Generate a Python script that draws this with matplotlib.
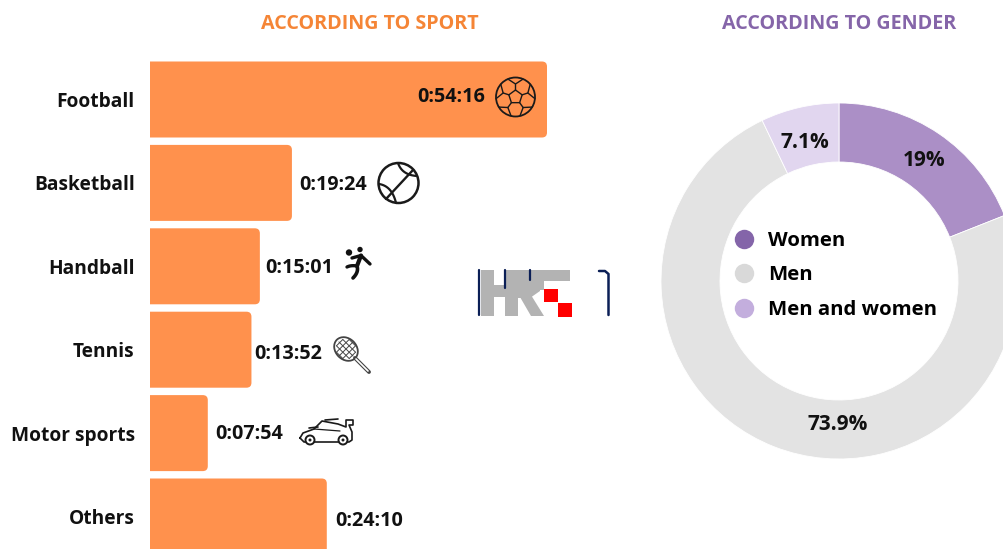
from __future__ import annotations

import matplotlib
matplotlib.use("Agg")
import matplotlib.pyplot as plt
import numpy as np
from matplotlib.lines import Line2D
from matplotlib.patches import Circle, Ellipse, PathPatch, Polygon, Rectangle
from matplotlib.path import Path

W, H = 1004, 549

sports = ["Football", "Basketball", "Handball", "Tennis", "Motor sports", "Others"]
times = ["0:54:16", "0:19:24", "0:15:01", "0:13:52", "0:07:54", "0:24:10"]

genders = ["Women", "Men", "Men and women"]
gender_shares = [19.0, 73.9, 7.1]
gender_labels = ["19%", "73.9%", "7.1%"]

ORANGE = "#FF914D"
WEDGE_COLORS = ["#AB8FC6", "#E3E3E3", "#E1D6EF"]
LEGEND_COLORS = ["#8465A9", "#D9D9D9", "#C3AEDD"]
NAVY = "#0B1F56"

# Noto Sans here is a variable font and renders regular only, Open Sans has a real bold
plt.rcParams["font.family"] = ["Open Sans", "DejaVu Sans"]
plt.rcParams["font.weight"] = "bold"


def to_seconds(label: str) -> int:
    h, m, s = label.split(":")
    return int(h) * 3600 + int(m) * 60 + int(s)


def px_axes(fig, left, top, width, height):
    return fig.add_axes([left / W, 1 - (top + height) / H, width / W, height / H])


def round_right(ax, bar, px_x, px_y, r=5):
    # barh gives square corners, swap for a shape rounded on the right side only
    x0, y0 = bar.get_x(), bar.get_y()
    x1, y1 = x0 + bar.get_width(), y0 + bar.get_height()
    rx, ry = r / px_x, r / px_y
    verts = [(x0, y0), (x1 - rx, y0), (x1, y0), (x1, y0 + ry), (x1, y1 - ry), (x1, y1),
             (x1 - rx, y1), (x0, y1), (x0, y0)]
    codes = [Path.MOVETO, Path.LINETO, Path.CURVE3, Path.CURVE3, Path.LINETO, Path.CURVE3,
             Path.CURVE3, Path.LINETO, Path.CLOSEPOLY]
    ax.add_patch(PathPatch(Path(verts, codes), fc=ORANGE, ec="none"))
    bar.set_visible(False)


fig = plt.figure(figsize=(W / 100, H / 100), dpi=100, facecolor="white")

# bars: axes spans full height, category 0 sits at 99.5px with 83.4px steps
seconds = [to_seconds(t) for t in times]
px_per_sec = 397 / 3256
step = 83.4
ax = px_axes(fig, 150, 0, W - 150, H)
bars = ax.barh(range(len(sports)), seconds, height=76 / step, color=ORANGE)
ax.set_xlim(0, (W - 150) / px_per_sec)
ax.set_ylim((H - 99.5) / step, -99.5 / step)
for b in bars:
    round_right(ax, b, px_per_sec, step)
ax.set_xticks([])
ax.set_yticks(range(len(sports)), sports, fontsize=13.8, fontweight="bold", color="#111111")
ax.tick_params(axis="y", length=0, pad=11)
for s in ax.spines.values():
    s.set_visible(False)
ax.patch.set_alpha(0)

label_shift = [-2, 2, 2, 4, 1, 4.5]
label_gap = [-62, 7, 5, 3, 7, 8]
for i, (sec, t) in enumerate(zip(seconds, times)):
    ax.annotate(t, xy=(sec, i), xytext=(label_gap[i] * 0.72, -label_shift[i] * 0.72),
                textcoords="offset points", ha="right" if i == 0 else "left", va="center",
                fontsize=14.2, fontweight="bold", color="#111111")

# donut runs clockwise from 12 o'clock and is cut by the right edge of the figure
cx, cy, R = 839, 281, 178
pie_ax = px_axes(fig, cx - R, cy - R, 2 * R, 2 * R)
pie_ax.pie(gender_shares, colors=WEDGE_COLORS, startangle=90, counterclock=False, radius=1,
           wedgeprops={"width": 59 / 178, "edgecolor": "white", "linewidth": 0.6})
pie_ax.set_xlim(-1, 1)
pie_ax.set_ylim(-1, 1)
pie_ax.set_aspect("equal")
for (lx, ly), lab in zip([(924, 161), (838, 425), (805, 143)], gender_labels):
    pie_ax.text((lx - cx) / R, (cy - ly) / R, lab, ha="center", va="center",
                fontsize=15, fontweight="bold", color="#111111")

handles = [Line2D([], [], ls="none", marker="o", ms=14, mfc=c, mec="none") for c in LEGEND_COLORS]
pie_ax.legend(handles, genders, loc="center left", bbox_to_anchor=((732 - cx) / R / 2 + 0.5, (cy - 275.5) / R / 2 + 0.5),
              frameon=False, fontsize=14.7, labelspacing=0.72, handletextpad=0.55, handlelength=1.2,
              borderaxespad=0, borderpad=0)

# overlay in pixel coordinates for titles, icons and the logo
ov = fig.add_axes([0, 0, 1, 1], zorder=5)
ov.set_xlim(0, W)
ov.set_ylim(H, 0)
ov.axis("off")
ov.text(370, 24, "ACCORDING TO SPORT", ha="center", va="center", fontsize=14.2, fontweight="bold", color="#F58536")
ov.text(839, 24, "ACCORDING TO GENDER", ha="center", va="center", fontsize=14.2, fontweight="bold", color="#8565A9")

ink = "#1A1A1A"


def line(pts, lw=1.3, color=ink):
    xs, ys = zip(*pts)
    ov.plot(xs, ys, color=color, lw=lw, solid_capstyle="round")


def curve(p0, p1, p2, lw=1.6, color=ink):
    t = np.linspace(0, 1, 24)[:, None]
    pts = (1 - t) ** 2 * np.array(p0) + 2 * t * (1 - t) * np.array(p1) + t ** 2 * np.array(p2)
    line(pts.tolist(), lw, color)


# football
fx, fy, fr = 515.5, 97, 19.5
ov.add_patch(Circle((fx, fy), fr, fc="none", ec=ink, lw=1.3))
ang = np.radians(-90 + 72 * np.arange(5))
inner = [(fx + 7 * np.cos(a), fy + 7 * np.sin(a)) for a in ang]
ov.add_patch(Polygon(inner, fc="none", ec=ink, lw=1.0))
for a, p in zip(ang, inner):
    mid = (fx + 13 * np.cos(a), fy + 13 * np.sin(a))
    line([p, mid], 1.0)
    line([(fx + fr * np.cos(a - 0.4), fy + fr * np.sin(a - 0.4)), mid,
          (fx + fr * np.cos(a + 0.4), fy + fr * np.sin(a + 0.4))], 1.0)

# basketball
bx, by, br = 398.5, 183, 20
ov.add_patch(Circle((bx, by), br, fc="none", ec=ink, lw=1.8))
line([(386, 199), (413, 170)], 1.7)
curve((398, 163), (402, 175), (417, 176))
curve((379, 184), (392, 186), (396, 203))

# handball player
ball = "#111111"
ov.add_patch(Circle((349, 252.5), 3.2, fc=ball, ec="none"))
ov.add_patch(Circle((360, 249.5), 2.7, fc=ball, ec="none"))
line([(352, 258), (361, 255.5), (370, 264)], 2.4, ball)
line([(361, 255.5), (357, 266)], 3, ball)
curve((357, 266), (351, 265), (347, 267), 2.4, ball)
curve((357, 266), (359, 272), (353, 278), 2.6, ball)

# racket
ov.add_patch(Ellipse((346, 349), 21, 26, angle=-45, fc="none", ec="#444444", lw=1.3))
c45 = np.cos(np.radians(45))
for d in np.arange(-9, 10, 4.5):
    hw = np.sqrt(max(100 - d * d, 0))
    line([(346 + d * c45 - hw * c45, 349 + d * c45 + hw * c45), (346 + d * c45 + hw * c45, 349 + d * c45 - hw * c45)], 0.7, "#444444")
    line([(346 + d * c45 - hw * c45, 349 - d * c45 - hw * c45), (346 + d * c45 + hw * c45, 349 - d * c45 + hw * c45)], 0.7, "#444444")
line([(355, 358), (369, 372)], 2.8, "#444444")
line([(356, 359), (368, 371)], 1.2, "white")

# race car
line([(300, 438), (303, 433), (314, 429), (322, 421), (338, 424), (346, 427), (346, 420), (353, 420),
      (353, 425), (349, 425), (352, 432), (352, 440), (349, 442), (304, 442), (300, 438)], 1.2)
line([(314, 429), (340, 431)], 0.9)
line([(309, 428), (318, 427)], 1.2)
line([(325, 420), (338, 419)], 1.2)
for wx in (310, 343):
    ov.add_patch(Circle((wx, 440), 4.5, fc="white", ec=ink, lw=1.4, zorder=3))
    ov.add_patch(Circle((wx, 440), 1.5, fc=ink, ec="none", zorder=4))

# HRT logo
GREY = "#B3B3B3"
for x0, y0, x1, y1 in [(481, 270, 494, 316), (505, 270, 518, 316), (494, 285, 505, 297),
                       (518, 270, 570, 281), (540, 281, 544, 290)]:
    ov.add_patch(Rectangle((x0, y0), x1 - x0, y1 - y0, fc=GREY, ec="none"))
ov.add_patch(Polygon([(518, 270), (530, 270), (540, 276), (540, 291), (530, 298), (518, 298)], fc=GREY, ec="none"))
ov.add_patch(Polygon([(520, 297), (531, 295), (544, 316), (531, 316)], fc=GREY, ec="none"))
ov.add_patch(Rectangle((544, 289), 14, 13, fc="#FF0000", ec="none"))
ov.add_patch(Rectangle((558, 303), 14, 13.5, fc="#FF0000", ec="none"))
line([(479.5, 270), (479.5, 315)], 1.6, NAVY)
line([(505.5, 270), (505.5, 288)], 1.6, NAVY)
line([(530, 270), (530, 280)], 1.6, NAVY)
line([(599, 271), (605, 271), (608.5, 274), (608.5, 315)], 1.8, NAVY)

fig.savefig("out.png", dpi=100)
